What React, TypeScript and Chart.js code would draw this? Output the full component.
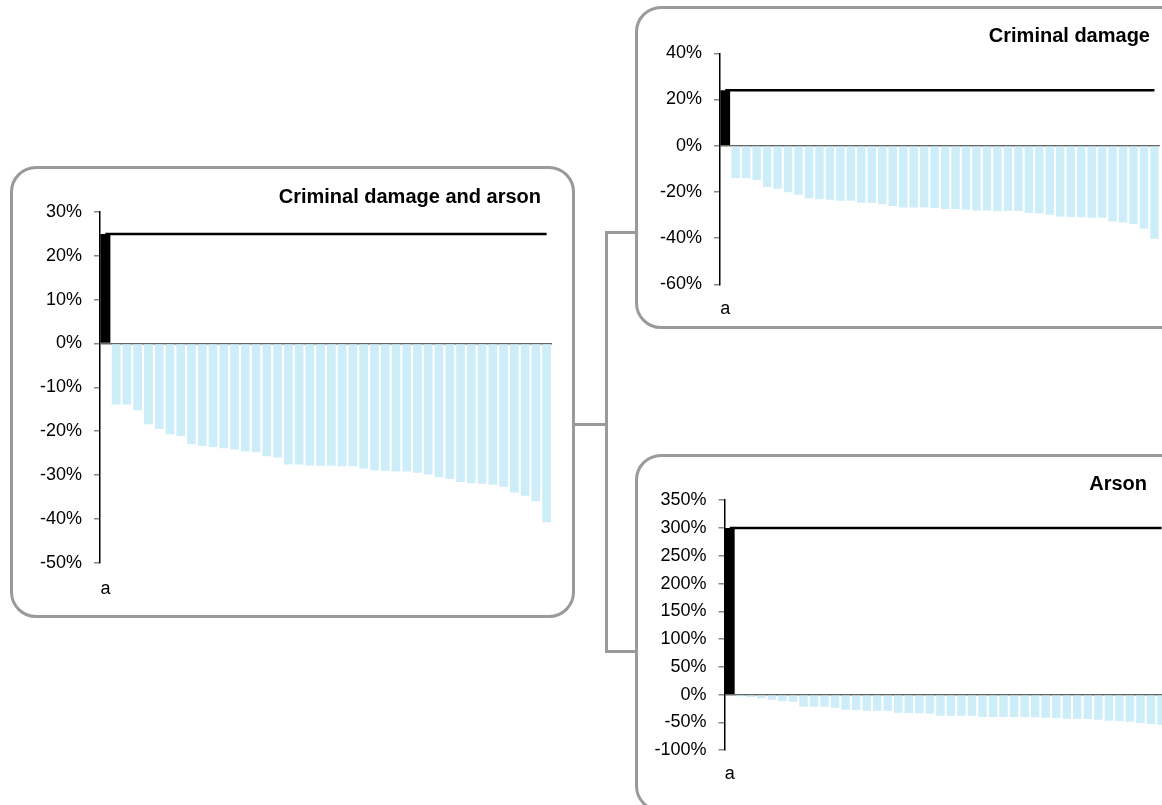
import { useEffect, useRef } from 'react';
import { Chart, registerables } from 'chart.js';

Chart.register(...registerables);

// ---- data ----
const firstCategory = 'a';

const damageArsonTitle = 'Criminal damage and arson';
const damageArsonRef = 25;
const damageArsonValues = [
  -13.9, -13.9, -15.2, -18.4, -19.5, -20.7, -21.1, -23.0, -23.4, -23.6,
  -23.9, -24.2, -24.6, -24.8, -25.7, -26.0, -27.6, -27.6, -27.8, -27.9,
  -27.9, -28.0, -28.0, -28.5, -28.9, -29.0, -29.2, -29.2, -29.5, -29.9,
  -30.5, -30.9, -31.6, -31.9, -32.0, -32.2, -32.7, -34.0, -34.7, -36.0, -40.8,
];
const damageArsonTicks = [-50, 30, 10];

const damageTitle = 'Criminal damage';
const damageRef = 24;
const damageValues = [
  -14.0, -14.1, -14.9, -17.9, -18.6, -20.1, -21.2, -22.7, -23.2, -23.4,
  -23.8, -23.8, -24.7, -24.8, -25.3, -26.1, -26.7, -26.8, -26.8, -27.0,
  -27.4, -27.4, -27.7, -28.0, -28.1, -28.4, -28.3, -28.3, -29.1, -29.3,
  -29.9, -30.6, -30.9, -31.0, -31.2, -31.2, -32.8, -33.2, -33.9, -35.8, -40.3,
];
const damageTicks = [-60, 40, 20];

const arsonTitle = 'Arson';
const arsonRef = 300;
const arsonValues = [
  -3.0, -4.2, -6.6, -9.0, -12.0, -12.6, -21.6, -21.6, -21.6, -23.4,
  -27.0, -27.6, -28.8, -28.8, -28.8, -32.4, -33.6, -33.6, -34.2, -37.8,
  -37.8, -37.8, -37.8, -40.2, -40.2, -40.2, -40.2, -40.2, -40.8, -41.4,
  -42.0, -43.2, -43.2, -43.8, -45.0, -46.8, -47.4, -48.6, -51.0, -52.8, -54.0,
];
const arsonTicks = [-100, 350, 50];

// ---- styles ----
const FONT = '"Liberation Sans", Arial, Helvetica, sans-serif';
const BLUE = '#cdeef9';
const FRAME = '#9a9a9a';
const X_AXIS_H = 40;
const TICK_SIZE = 18;

type Box = {
  left: number; top: number; width: number; height: number;
  plotLeft: number; plotTop: number; plotBottom: number; padRight: number; xPad: number;
};

function BarChart({ refValue, values, ticks, box }: { refValue: number; values: number[]; ticks: number[]; box: Box }) {
  const ref = useRef<HTMLCanvasElement>(null);
  useEffect(() => {
    const labels = [firstCategory, ...values.map(() => '')];
    const [min, max, step] = ticks;
    const chart = new Chart(ref.current as HTMLCanvasElement, {
      type: 'bar',
      data: {
        labels,
        datasets: [
          {
            type: 'line',
            data: labels.map(() => refValue),
            borderColor: '#000',
            borderWidth: 2.5,
            pointRadius: 0,
            order: 0,
          } as any,
          {
            type: 'bar',
            data: [refValue, ...values.map(() => null)],
            backgroundColor: '#000',
            barPercentage: 0.93,
            categoryPercentage: 1,
            grouped: false,
            order: 1,
          },
          {
            type: 'bar',
            data: [null, ...values],
            backgroundColor: BLUE,
            barPercentage: 0.81,
            categoryPercentage: 1,
            grouped: false,
            order: 2,
          },
        ],
      },
      options: {
        animation: false,
        responsive: false,
        devicePixelRatio: 1,
        layout: {
          padding: {
            left: 0,
            top: box.plotTop,
            right: box.padRight,
            bottom: box.height - box.plotBottom - X_AXIS_H,
          },
        },
        plugins: {
          legend: { display: false },
          tooltip: { enabled: false },
          title: { display: false },
        },
        scales: {
          x: {
            grid: { display: false },
            border: { display: false },
            ticks: {
              autoSkip: false,
              maxRotation: 0,
              padding: box.xPad,
              color: '#000',
              font: { family: FONT, size: TICK_SIZE },
            },
            afterFit: (s: any) => { s.height = X_AXIS_H; },
          },
          y: {
            min,
            max,
            ticks: {
              stepSize: step,
              callback: (v: any) => v + '%',
              padding: 12,
              color: '#000',
              font: { family: FONT, size: TICK_SIZE },
            },
            grid: {
              color: (c: any) => (c.tick && c.tick.value === 0 ? '#666' : 'rgba(0,0,0,0)'),
              lineWidth: 1.5,
              tickColor: '#888',
              tickWidth: 1.5,
              tickLength: 6,
              drawTicks: true,
            },
            border: { display: true, color: '#000', width: 1.5 },
            afterFit: (s: any) => { s.width = box.plotLeft; },
          },
        },
      },
    });
    return () => chart.destroy();
  }, []);
  return (
    <canvas
      ref={ref}
      width={box.width}
      height={box.height}
      style={{ position: 'absolute', left: box.left, top: box.top, width: box.width, height: box.height }}
    />
  );
}

function Panel({ left, top, width, height }: { left: number; top: number; width: number; height: number }) {
  return (
    <div
      style={{
        position: 'absolute', left, top, width, height, boxSizing: 'border-box',
        border: `3px solid ${FRAME}`, borderRadius: 26, background: '#fff',
      }}
    />
  );
}

function Line({ left, top, width, height }: { left: number; top: number; width: number; height: number }) {
  return <div style={{ position: 'absolute', left, top, width, height, background: FRAME }} />;
}

function Title({ text, right, centerY }: { text: string; right: number; centerY: number }) {
  return (
    <div
      style={{
        position: 'absolute', right: 1162 - right, top: centerY - 12, height: 24, lineHeight: '24px',
        fontFamily: FONT, fontWeight: 'bold', fontSize: 20, color: '#000', whiteSpace: 'nowrap',
      }}
    >
      {text}
    </div>
  );
}

export default function App() {
  const box1: Box = { left: 11, top: 168, width: 562, height: 448, plotLeft: 89, plotTop: 44, plotBottom: 394.7, padRight: 21, xPad: 7.4 };
  const box2: Box = { left: 637, top: 8, width: 525, height: 319, plotLeft: 83, plotTop: 45.3, plotBottom: 276.3, padRight: 2.3, xPad: 6 };
  const box3: Box = { left: 637, top: 455, width: 540, height: 350, plotLeft: 87.5, plotTop: 45.2, plotBottom: 295.2, padRight: 10.2, xPad: 5 };
  return (
    <div style={{ position: 'fixed', left: 0, top: 0, width: 1162, height: 805, overflow: 'hidden', background: '#fff' }}>
      <Line left={574} top={422.5} width={33} height={3} />
      <Line left={604.5} top={230.5} width={3} height={422} />
      <Line left={604.5} top={230.5} width={32} height={3} />
      <Line left={604.5} top={649.5} width={32} height={3} />
      <Panel left={10} top={166} width={565} height={452} />
      <Panel left={635} top={6} width={551} height={323} />
      <Panel left={635} top={454} width={551} height={358} />
      <BarChart refValue={damageArsonRef} values={damageArsonValues} ticks={damageArsonTicks} box={box1} />
      <BarChart refValue={damageRef} values={damageValues} ticks={damageTicks} box={box2} />
      <BarChart refValue={arsonRef} values={arsonValues} ticks={arsonTicks} box={box3} />
      <Title text={damageArsonTitle} right={541} centerY={196} />
      <Title text={damageTitle} right={1150} centerY={35} />
      <Title text={arsonTitle} right={1147} centerY={483} />
    </div>
  );
}
